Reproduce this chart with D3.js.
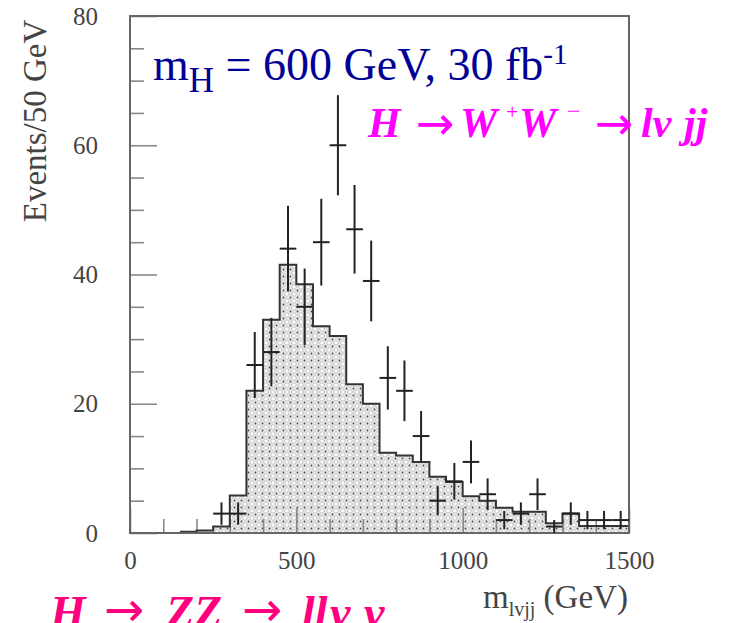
<!DOCTYPE html>
<html>
<head>
<meta charset="utf-8">
<script src="https://cdn.jsdelivr.net/npm/d3@7"></script>
<style>
body { margin: 0; background: #fff; }
text { font-family: "Liberation Serif", "DejaVu Serif", serif; }
</style>
</head>
<body>
<script>
const width = 742;
const height = 623;

// background histogram, 50 GeV bins (lower edge -> content)
const binLow = [0, 50, 100, 150, 200, 250, 300, 350, 400, 450, 500, 550, 600, 650, 700,
                750, 800, 850, 900, 950, 1000, 1050, 1100, 1150, 1200, 1250, 1300, 1350, 1400, 1450];
const bgCounts = [0, 0, 0, 0.2, 0.4, 1.0, 5.8, 22, 33, 41.5, 38.5, 32, 30.5, 23, 20,
                  12.4, 12, 11, 8.7, 7.9, 5.7, 5.0, 3.9, 3.3, 3.3, 1.5, 3.0, 1.1, 1.1, 1.1];

// signal + background pseudo-data
const dataMass = [275, 325, 375, 425, 475, 525, 575, 625, 675, 725, 775, 825, 875,
                  925, 975, 1025, 1075, 1125, 1175, 1225, 1275, 1325, 1375, 1425, 1475];
const dataCounts = [3, 3, 26, 28, 44, 35, 45, 60, 47, 39, 24, 22, 15,
                    5, 8, 11, 6, 2, 3, 6, 1, 3, 2, 2, 2];

const xMajor = [0, 500, 1000, 1500];
const xMinor = [100, 200, 300, 400, 600, 700, 800, 900, 1100, 1200, 1300, 1400];
const yMajor = [0, 20, 40, 60, 80];
const yMinor = [5, 10, 15, 25, 30, 35, 45, 50, 55, 65, 70, 75];

const x = d3.scaleLinear().domain([0, 1500]).range([130, 629]);
const y = d3.scaleLinear().domain([0, 80]).range([533, 16]);

const svg = d3.select("body").append("svg")
    .attr("width", width)
    .attr("height", height);

// dotted fill like the original scan
const defs = svg.append("defs");
const pat = defs.append("pattern")
    .attr("id", "dots")
    .attr("patternUnits", "userSpaceOnUse")
    .attr("width", 7)
    .attr("height", 7);
pat.append("rect").attr("width", 7).attr("height", 7).attr("fill", "#e6e6e6");
[[0, 0], [7, 0], [0, 7], [7, 7]].forEach(p => {
    pat.append("circle").attr("cx", p[0]).attr("cy", p[1]).attr("r", 2.2)
        .attr("fill", "#fff").attr("stroke", "#b8b8b8").attr("stroke-width", 0.8);
});
pat.append("circle").attr("cx", 3.5).attr("cy", 3.5).attr("r", 0.9).attr("fill", "#444");

const bins = binLow.map((b, i) => ({ x: b, v: bgCounts[i] }));
bins.push({ x: 1500, v: bgCounts[bgCounts.length - 1] });

svg.append("path")
    .datum(bins)
    .attr("fill", "url(#dots)")
    .attr("d", d3.area().curve(d3.curveStepAfter)
        .x(d => x(d.x)).y0(y(0)).y1(d => y(d.v)));

// ticks (inside the frame)
const tickColor = "#888";
const yAxisMajor = svg.append("g")
    .attr("transform", `translate(${x(0)},0)`)
    .call(d3.axisLeft(y).tickValues(yMajor).tickSize(-27).tickPadding(32).tickFormat(d3.format("d")));
const yAxisMinor = svg.append("g")
    .attr("transform", `translate(${x(0)},0)`)
    .call(d3.axisLeft(y).tickValues(yMinor).tickSize(-14).tickFormat(""));
const xAxisMajor = svg.append("g")
    .attr("transform", `translate(0,${y(0)})`)
    .call(d3.axisBottom(x).tickValues(xMajor).tickSize(-25).tickPadding(18).tickFormat(d3.format("d")));
const xAxisMinor = svg.append("g")
    .attr("transform", `translate(0,${y(0)})`)
    .call(d3.axisBottom(x).tickValues(xMinor).tickSize(-14).tickFormat(""));

[yAxisMajor, yAxisMinor, xAxisMajor, xAxisMinor].forEach(g => {
    g.attr("font-family", "Liberation Serif").attr("font-size", 25);
    g.select(".domain").remove();
    g.selectAll(".tick line").attr("stroke", tickColor).attr("stroke-width", 1.6);
    g.selectAll(".tick text").attr("fill", "#444");
});

// histogram outline
svg.append("path")
    .datum(bins.filter(d => d.x >= 150))
    .attr("fill", "none")
    .attr("stroke", "#333")
    .attr("stroke-width", 2)
    .attr("d", d3.line().curve(d3.curveStepAfter).x(d => x(d.x)).y(d => y(d.v)));

// frame
svg.append("rect")
    .attr("x", x(0))
    .attr("y", y(80))
    .attr("width", x(1500) - x(0))
    .attr("height", y(0) - y(80))
    .attr("fill", "none")
    .attr("stroke", "#666")
    .attr("stroke-width", 2);

// data crosses
const pts = dataMass.map((m, i) => ({ m: m, n: dataCounts[i] }));
const cross = svg.append("g")
    .attr("stroke", "#222")
    .attr("stroke-width", 2);
cross.selectAll(".h")
    .data(pts)
    .join("line")
    .attr("x1", d => x(d.m - 25))
    .attr("x2", d => x(d.m + 25))
    .attr("y1", d => y(d.n))
    .attr("y2", d => y(d.n));
cross.selectAll(".v")
    .data(pts)
    .join("line")
    .attr("x1", d => x(d.m))
    .attr("x2", d => x(d.m))
    .attr("y1", d => y(Math.max(0, d.n - Math.sqrt(d.n))))
    .attr("y2", d => y(d.n + Math.sqrt(d.n)));

// axis titles
svg.append("text")
    .attr("transform", "translate(46,121) rotate(-90)")
    .attr("text-anchor", "middle")
    .attr("fill", "#444")
    .style("font-size", "33px")
    .text("Events/50 GeV");

const xt = svg.append("text")
    .attr("x", 483)
    .attr("y", 608)
    .attr("fill", "#444")
    .style("font-size", "33px");
xt.append("tspan").text("m");
xt.append("tspan").attr("dy", 8).style("font-size", "20px").text("lvjj");
xt.append("tspan").attr("dy", -8).text(" (GeV)");

// title
const tt = svg.append("text")
    .attr("x", 153)
    .attr("y", 80)
    .attr("fill", "#000096")
    .style("font-size", "46px");
tt.append("tspan").text("m");
tt.append("tspan").attr("dy", 12).style("font-size", "35px").text("H");
tt.append("tspan").attr("dy", -12).text(" = 600 GeV, 30 fb");
tt.append("tspan").attr("dy", -16).style("font-size", "29px").text("-1");

// decay channel labels
function piece(g, str, px, py, size, kind) {
    const t = g.append("text")
        .attr("x", px)
        .attr("y", py)
        .style("font-size", size + "px")
        .text(str);
    if (kind === "b") t.style("font-weight", "bold").style("font-style", "italic");
    if (kind === "arrow") t.style("font-family", "'DejaVu Sans', sans-serif");
}
const ww = svg.append("g").attr("fill", "#ff00ff");
piece(ww, "H", 368, 137, 42, "b");
piece(ww, "→", 416, 139, 46, "arrow");
piece(ww, "W", 460, 137, 42, "b");
piece(ww, "+", 506, 119, 22, "");
piece(ww, "W", 519, 137, 42, "b");
piece(ww, "−", 567, 119, 24, "");
piece(ww, "→", 595, 139, 46, "arrow");
piece(ww, "lν", 641, 137, 42, "b");
piece(ww, "jj", 684, 137, 42, "b");

const zz = svg.append("g").attr("fill", "#ff0080");
piece(zz, "H", 50, 628, 46, "b");
piece(zz, "→", 104, 626, 48, "arrow");
piece(zz, "ZZ", 166, 628, 46, "b");
piece(zz, "→", 242, 626, 48, "arrow");
piece(zz, "ll", 302, 628, 46, "b");
piece(zz, "ν", 330, 628, 46, "b");
piece(zz, "ν", 364, 628, 46, "b");
</script>
</body>
</html>
